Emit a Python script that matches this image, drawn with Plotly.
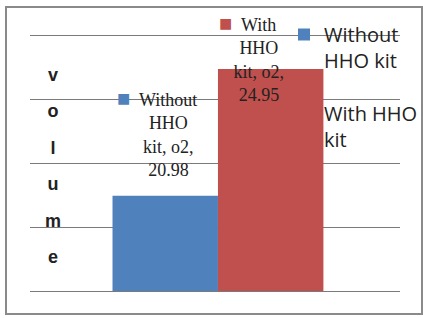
import plotly.graph_objects as go

categories = ["o2"]
series_names = ["Without HHO kit", "With HHO kit"]
legend_labels = ["Without<br>HHO kit", "With HHO<br>kit"]
series_values = [[20.98], [24.95]]
colors = ["#4F81BD", "#C0504D"]
y_range = [18, 26.2]
y_dtick = 2
axis_title = "volume"

W, H = 423, 318
L, R, T, B = 30, 23, 29, 27
pw, ph = W - L - R, H - T - B

def px_x(p):
    return (p - L) / pw

def px_y(p):
    return (H - B - p) / ph

fig = go.Figure()
for i, (name, vals, col) in enumerate(zip(legend_labels, series_values, colors)):
    fig.add_trace(go.Bar(
        x=categories, y=vals, name=name, legendgroup=f"g{i}",
        marker=dict(color=col, line=dict(width=0)),
    ))

# data labels (series name, category, value) in Excel style
label_shifts = [(-49, 14), (41, -38)]
pad = "&nbsp;" * 5
for (name, vals, col, (dx, dy)) in zip(series_names, series_values, colors, label_shifts):
    words = name.split(" ")
    first = words[0]
    rest = " ".join(words[1:-1])
    txt = (f'<span style="color:{col};font-size:22px">■</span>&nbsp; {first}{pad}<br>{rest}<br>'
           f'{words[-1]}, {categories[0]},<br>{vals[0]:.2f}')
    fig.add_annotation(
        x=categories[0], y=vals[0], xref="x", yref="y",
        text=txt, showarrow=False, xanchor="center", yanchor="bottom",
        xshift=dx, yshift=dy, align="center",
        font=dict(family="Liberation Serif", size=18, color="#222"),
    )

# stacked vertical axis title
letters = "<br>".join(f'<span style="font-size:18px"><b>{c}</b></span>' for c in axis_title)
fig.add_annotation(
    x=px_x(53), y=px_y(166), xref="paper", yref="paper",
    text=letters, showarrow=False, xanchor="center", yanchor="middle",
    font=dict(family="Liberation Sans", size=28, color="#222"),
)

# outer frame
fig.add_shape(type="rect", xref="paper", yref="paper",
              x0=px_x(6), x1=px_x(422), y0=px_y(314), y1=px_y(7),
              line=dict(color="#8a8a8a", width=2), layer="below")

fig.update_layout(
    width=W, height=H,
    margin=dict(l=L, r=R, t=T, b=B, autoexpand=False),
    paper_bgcolor="white", plot_bgcolor="white",
    barmode="group", bargap=0.43, bargroupgap=0,
    showlegend=True,
    legend=dict(x=px_x(284), y=px_y(15), xanchor="left", yanchor="top",
                bgcolor="rgba(0,0,0,0)", valign="top", tracegroupgap=24,
                font=dict(family="Open Sans", size=20, color="#222")),
    xaxis=dict(range=[-0.508, 0.492], showline=True, linecolor="#7a7a7a",
               linewidth=1, showticklabels=False, ticks="", showgrid=False,
               zeroline=False),
    yaxis=dict(range=y_range, dtick=y_dtick, showticklabels=False,
               showgrid=True, gridcolor="#7a7a7a", gridwidth=1,
               zeroline=False, showline=False, ticks=""),
)

fig.write_html("out.html", config={"displayModeBar": False},
               post_script="document.body.style.margin='0px';")
